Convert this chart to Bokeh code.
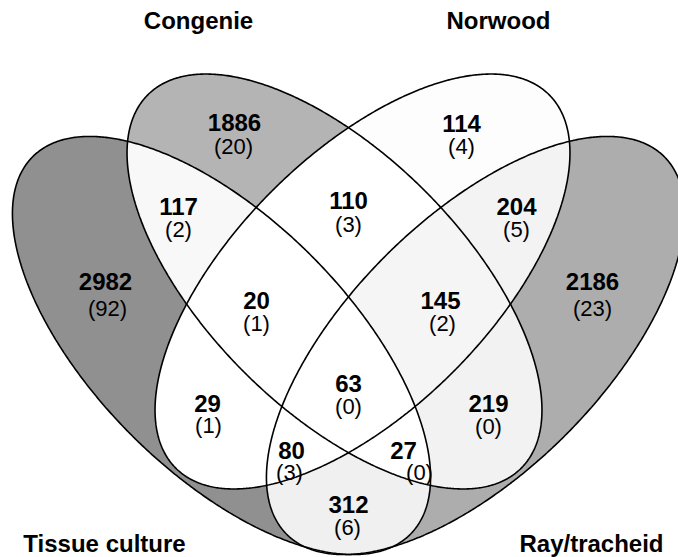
import numpy as np
from bokeh.plotting import figure
from bokeh.models import Range1d
from bokeh.core.properties import value
from bokeh.embed import file_html
from bokeh.resources import INLINE

# ---------------- data ----------------
set_names = ["Tissue culture", "Congenie", "Norwood", "Ray/tracheid"]
set_keys = ["A", "B", "C", "D"]
# region membership keys: A=Tissue culture, B=Congenie, C=Norwood, D=Ray/tracheid
region_keys = ["A", "B", "C", "D", "AB", "BC", "CD", "AD", "AC", "BD",
               "ABC", "BCD", "ACD", "ABD", "ABCD"]
region_counts = [2982, 1886, 114, 2186, 117, 110, 204, 312, 29, 219,
                 20, 145, 80, 27, 63]
region_sub_counts = [92, 20, 4, 23, 2, 3, 5, 6, 1, 0,
                     1, 2, 3, 0, 0]

# ---------------- layout (screen pixel coordinates) ----------------
# ellipse geometry: centre, semi-major, semi-minor, major-axis direction
ellipse_geom = {
    "A": (221.0, 345.0, 267.0, 127.0, (1, 1)),
    "B": (334.0, 281.0, 264.0, 128.0, (1, 1)),
    "C": (362.0, 281.0, 264.0, 128.0, (1, -1)),
    "D": (475.0, 345.0, 267.0, 127.0, (1, -1)),
}
region_fill = {
    "A": "#909090", "B": "#b4b4b4", "C": "#fdfdfd", "D": "#adadad",
    "AB": "#f8f8f8", "BC": "#ffffff", "CD": "#f3f3f3", "AD": "#f0f0f0",
    "AC": "#ffffff", "BD": "#f2f2f2",
    "ABC": "#ffffff", "BCD": "#f5f5f5", "ACD": "#ffffff", "ABD": "#ffffff",
    "ABCD": "#ffffff",
}
label_pos = {
    "A": (105, 281, 107, 308), "B": (234, 122, 233, 146),
    "C": (461, 123, 461, 146), "D": (592, 281, 592, 308),
    "AB": (178, 206, 178, 229), "BC": (348, 200, 348, 224),
    "CD": (516, 206, 516, 229), "AD": (348, 504, 347, 527),
    "AC": (207, 403, 208, 425), "BD": (488, 403, 488, 426),
    "ABC": (256, 300, 256, 323), "BCD": (440, 300, 442, 323),
    "ACD": (291, 450, 289, 472), "ABD": (403, 450, 419, 472),
    "ABCD": (348, 383, 348, 406),
}
title_pos = {
    "Tissue culture": (104, 543), "Congenie": (198, 20),
    "Norwood": (498, 20), "Ray/tracheid": (591, 543),
}


def ellipse_poly(cx, cy, a, b, d, n):
    ux, uy = d[0] / np.hypot(*d), d[1] / np.hypot(*d)
    t = np.linspace(0, 2 * np.pi, n, endpoint=False)
    x = cx + a * np.cos(t) * ux - b * np.sin(t) * uy
    y = cy + a * np.cos(t) * uy + b * np.sin(t) * ux
    return list(zip(x.tolist(), y.tolist()))


def signed_area(poly):
    s = 0.0
    for i in range(len(poly)):
        x1, y1 = poly[i]
        x2, y2 = poly[(i + 1) % len(poly)]
        s += x1 * y2 - x2 * y1
    return s / 2


def clip(subject, clip_poly):
    orient = 1 if signed_area(clip_poly) > 0 else -1

    def inside(p, a, b):
        return ((b[0] - a[0]) * (p[1] - a[1]) - (b[1] - a[1]) * (p[0] - a[0])) * orient >= 0

    def inter(p1, p2, a, b):
        x1, y1 = p1; x2, y2 = p2; x3, y3 = a; x4, y4 = b
        den = (x1 - x2) * (y3 - y4) - (y1 - y2) * (x3 - x4)
        if den == 0:
            return p2
        t = ((x1 - x3) * (y3 - y4) - (y1 - y3) * (x3 - x4)) / den
        return (x1 + t * (x2 - x1), y1 + t * (y2 - y1))

    out = subject
    n = len(clip_poly)
    for i in range(n):
        a = clip_poly[i]; b = clip_poly[(i + 1) % n]
        inp = out
        out = []
        if not inp:
            break
        s = inp[-1]
        for e in inp:
            if inside(e, a, b):
                if not inside(s, a, b):
                    out.append(inter(s, e, a, b))
                out.append(e)
            elif inside(s, a, b):
                out.append(inter(s, e, a, b))
            s = e
    return out


polys = {k: ellipse_poly(*ellipse_geom[k], n=300) for k in set_keys}

p = figure(width=678, height=557, output_backend="svg", toolbar_location=None,
           x_range=Range1d(0, 678), y_range=Range1d(557, 0),
           x_axis_type=None, y_axis_type=None, min_border=0)
p.grid.visible = False
p.outline_line_color = None
p.background_fill_color = "white"
p.border_fill_color = "white"

# fills: singles first, then pairwise, triple, quadruple intersections
ordered = sorted(region_keys, key=len)
xs, ys, cols = [], [], []
for key in ordered:
    poly = polys[key[0]]
    for k in key[1:]:
        poly = clip(poly, polys[k])
    if len(poly) < 3:
        continue
    xs.append([q[0] for q in poly])
    ys.append([q[1] for q in poly])
    cols.append(region_fill[key])
p.patches(xs, ys, fill_color=cols, line_color=None)

# outlines
oxs, oys = [], []
for k in set_keys:
    pts = ellipse_poly(*ellipse_geom[k], n=720)
    oxs.append([q[0] for q in pts])
    oys.append([q[1] for q in pts])
p.patches(oxs, oys, fill_color=None, line_color="black", line_width=1.6)

# labels
bx = [label_pos[k][0] for k in region_keys]
by = [label_pos[k][1] for k in region_keys]
sx = [label_pos[k][2] for k in region_keys]
sy = [label_pos[k][3] for k in region_keys]
p.text(bx, by, text=[str(v) for v in region_counts],
       text_font=value("Liberation Sans"), text_font_style="bold",
       text_font_size="24px", text_align="center", text_baseline="middle",
       text_color="black")
p.text(sx, sy, text=["(%d)" % v for v in region_sub_counts],
       text_font=value("Liberation Sans"), text_font_style="normal",
       text_font_size="22px", text_align="center", text_baseline="middle",
       text_color="black")

tx = [title_pos[n][0] for n in set_names]
ty = [title_pos[n][1] for n in set_names]
p.text(tx, ty, text=set_names, text_font=value("Liberation Sans"),
       text_font_style="bold", text_font_size="24px", text_align="center",
       text_baseline="middle", text_color="black")

open("out.html", "w").write(file_html(p, INLINE))
